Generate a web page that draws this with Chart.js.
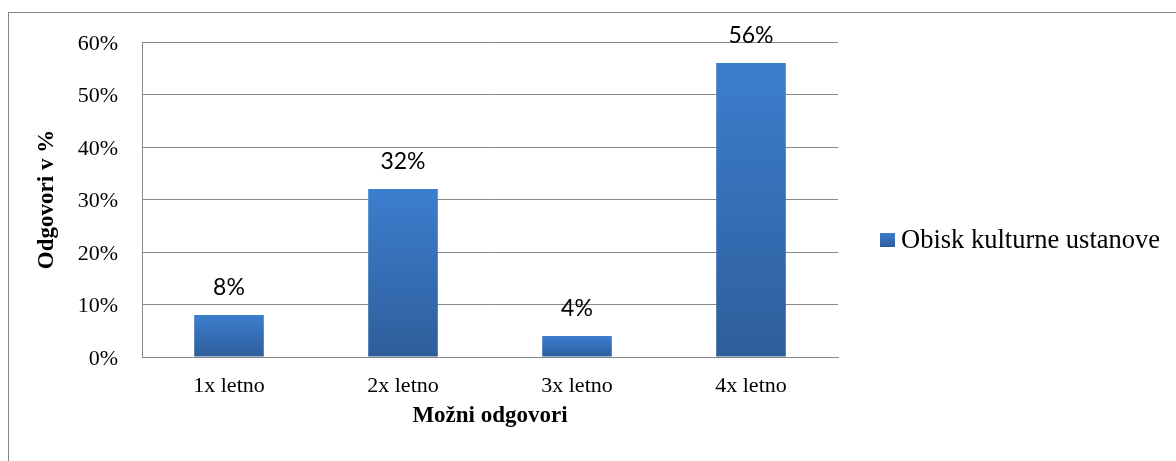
<!DOCTYPE html>
<html>
<head>
<meta charset="utf-8">
<script src="https://cdn.jsdelivr.net/npm/chart.js@4.4.0/dist/chart.umd.min.js"></script>
<style>
    body { margin: 0; background: #fff; }
    #wrap { position: relative; width: 1176px; height: 461px; overflow: hidden; }
    #frame { position: absolute; left: 8px; top: 12px; width: 1300px; height: 600px; border: 1px solid #888; }
    #chart { position: absolute; left: 0; top: 0; }
</style>
</head>
<body>
<div id="wrap">
    <div id="frame"></div>
    <canvas id="chart" width="1176" height="461"></canvas>
</div>
<script>
const categories = ['1x letno', '2x letno', '3x letno', '4x letno'];
const values = [8, 32, 4, 56];
const seriesName = 'Obisk kulturne ustanove';
const yTicks = [0, 10, 20, 30, 40, 50, 60];

const serif = '"Liberation Serif", "Times New Roman", serif';

// gradient per bar, light at the top, darker at the base
function barFill(context) {
    const chart = context.chart;
    if (!chart.chartArea) return '#3a74c0';
    const v = context.raw;
    const top = chart.scales.y.getPixelForValue(v);
    const bottom = chart.scales.y.getPixelForValue(0);
    const g = chart.ctx.createLinearGradient(0, top, 0, bottom);
    g.addColorStop(0, '#3c7ece');
    g.addColorStop(1, '#2e5e9b');
    return g;
}

// value labels above each bar
const valueLabels = {
    id: 'valueLabels',
    afterDatasetsDraw(chart) {
        const ctx = chart.ctx;
        const meta = chart.getDatasetMeta(0);
        ctx.save();
        ctx.font = '23px Lato, "Open Sans", sans-serif';
        ctx.fillStyle = '#000';
        ctx.textAlign = 'center';
        ctx.textBaseline = 'middle';
        meta.data.forEach((bar, i) => {
            ctx.fillText(values[i] + '%', bar.x, bar.y - 27);
        });
        ctx.restore();
    }
};

// legend to the right of the plot
const sideLegend = {
    id: 'sideLegend',
    afterDraw(chart) {
        const ctx = chart.ctx;
        const ds = chart.data.datasets[0];
        const x = 880, y = 240;
        ctx.save();
        const g = ctx.createLinearGradient(0, y - 7, 0, y + 7);
        g.addColorStop(0, '#3c7ece');
        g.addColorStop(1, '#2e5e9b');
        ctx.fillStyle = g;
        ctx.fillRect(x, y - 7, 15, 14);
        ctx.fillStyle = '#000';
        ctx.font = '26.5px ' + serif;
        ctx.textBaseline = 'middle';
        ctx.fillText(ds.label, x + 21, y + 1);
        ctx.restore();
    }
};

const ctx = document.getElementById('chart').getContext('2d');
const chart = new Chart(ctx, {
    type: 'bar',
    data: {
        labels: categories,
        datasets: [{
            label: seriesName,
            data: values,
            backgroundColor: barFill,
            categoryPercentage: 1,
            barPercentage: 0.4
        }]
    },
    options: {
        responsive: false,
        animation: false,
        layout: { padding: { top: 42, right: 338, bottom: 27, left: 0 } },
        plugins: {
            legend: { display: false },
            tooltip: { enabled: false }
        },
        scales: {
            x: {
                afterFit(scale) { scale.height = 77; },
                grid: { display: false, drawTicks: false },
                border: { color: '#888', width: 1 },
                ticks: { color: '#000', padding: 16, font: { family: serif, size: 22 } },
                title: {
                    display: true,
                    text: 'Možni odgovori',
                    color: '#000',
                    font: { family: serif, size: 23, weight: 'bold' },
                    padding: { top: 3, bottom: 4 }
                }
            },
            y: {
                min: 0,
                max: 60,
                afterFit(scale) { scale.width = 142; },
                afterBuildTicks(scale) { scale.ticks = yTicks.map(v => ({ value: v })); },
                grid: { color: '#888', lineWidth: 1, drawTicks: false },
                border: { color: '#888', width: 1 },
                ticks: {
                    color: '#000',
                    padding: 24,
                    labelOffset: 2,
                    font: { family: serif, size: 22 },
                    callback: v => v + '%'
                },
                title: {
                    display: true,
                    text: 'Odgovori v %',
                    color: '#000',
                    font: { family: serif, size: 23, weight: 'bold' },
                    padding: { top: 33, bottom: 0 }
                }
            }
        }
    },
    plugins: [valueLabels, sideLegend]
});
</script>
</body>
</html>
